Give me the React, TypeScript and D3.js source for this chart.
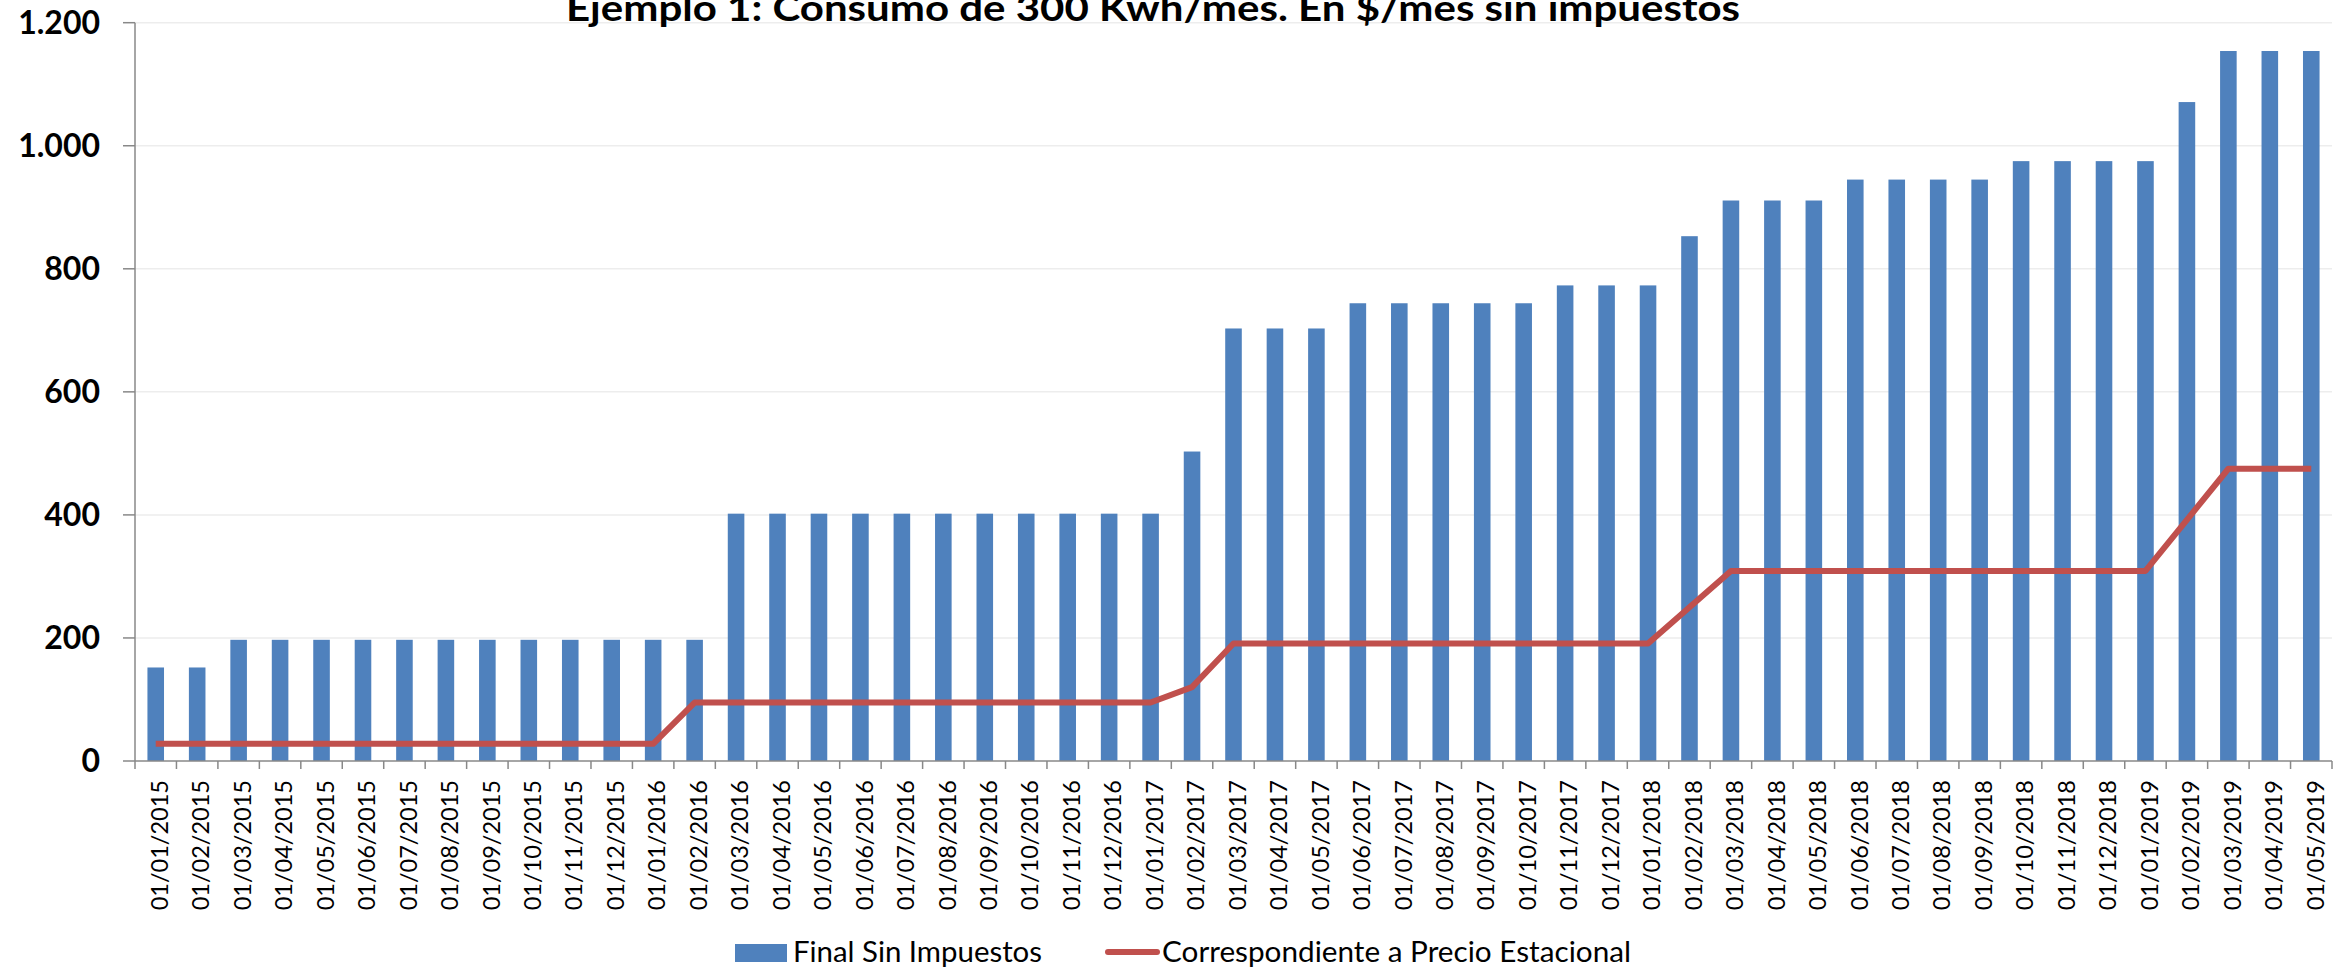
import React from "react";
import * as d3 from "d3";

const title = "Ejemplo 1: Consumo de 300 Kwh/mes. En $/mes sin impuestos";

const categories = [
  "01/01/2015", "01/02/2015", "01/03/2015", "01/04/2015", "01/05/2015", "01/06/2015",
  "01/07/2015", "01/08/2015", "01/09/2015", "01/10/2015", "01/11/2015", "01/12/2015",
  "01/01/2016", "01/02/2016", "01/03/2016", "01/04/2016", "01/05/2016", "01/06/2016",
  "01/07/2016", "01/08/2016", "01/09/2016", "01/10/2016", "01/11/2016", "01/12/2016",
  "01/01/2017", "01/02/2017", "01/03/2017", "01/04/2017", "01/05/2017", "01/06/2017",
  "01/07/2017", "01/08/2017", "01/09/2017", "01/10/2017", "01/11/2017", "01/12/2017",
  "01/01/2018", "01/02/2018", "01/03/2018", "01/04/2018", "01/05/2018", "01/06/2018",
  "01/07/2018", "01/08/2018", "01/09/2018", "01/10/2018", "01/11/2018", "01/12/2018",
  "01/01/2019", "01/02/2019", "01/03/2019", "01/04/2019", "01/05/2019",
];

const finalSinImpuestos = [
  152, 152, 197, 197, 197, 197, 197, 197, 197, 197, 197, 197,
  197, 197, 402, 402, 402, 402, 402, 402, 402, 402, 402, 402,
  402, 503, 703, 703, 703, 744, 744, 744, 744, 744, 773, 773,
  773, 853, 911, 911, 911, 945, 945, 945, 945, 975, 975, 975,
  975, 1071, 1154, 1154, 1154,
];

const precioEstacional = [
  28, 28, 28, 28, 28, 28, 28, 28, 28, 28, 28, 28,
  28, 95, 95, 95, 95, 95, 95, 95, 95, 95, 95, 95,
  95, 120, 191, 191, 191, 191, 191, 191, 191, 191, 191, 191,
  191, 250, 309, 309, 309, 309, 309, 309, 309, 309, 309, 309,
  309, 392, 475, 475, 475,
];

const yTicks = [0, 200, 400, 600, 800, 1000, 1200];
const legendLabels = ["Final Sin Impuestos", "Correspondiente a Precio Estacional"];

const W = 2346;
const H = 968;
const M = { left: 135, right: 2332, top: 22.7, bottom: 761 };
const BAR = "#4F81BD";
const LINE = "#C0504D";
const AXIS = "#888888";
const GRID = "#EDEDED";
const FONT = "Lato, 'Open Sans', sans-serif";

const fmt = (v: number) => d3.format(",")(v).replace(/,/g, ".");

export default function App() {
  const x = d3
    .scaleBand<string>()
    .domain(categories)
    .range([M.left, M.right])
    .paddingInner(0.6)
    .paddingOuter(0.3);
  const y = d3.scaleLinear().domain([0, 1200]).range([M.bottom, M.top]);
  const step = x.step();
  const center = (c: string) => (x(c) as number) + x.bandwidth() / 2;

  const line = d3
    .line<number>()
    .x((_, i) => center(categories[i]))
    .y((d) => y(d));

  const tickXs = d3.range(categories.length + 1).map((i) => M.left + i * step);

  return (
    <svg
      width={W}
      height={H}
      style={{ position: "absolute", left: 0, top: 0, background: "#fff" }}
      fontFamily={FONT}
    >
      <rect x={0} y={0} width={W} height={H} fill="#fff" />
      {/* gridlines */}
      {yTicks.filter((t) => t > 0).map((t) => (
        <line key={"g" + t} x1={M.left} x2={M.right} y1={y(t)} y2={y(t)} stroke={GRID} strokeWidth={1.5} />
      ))}
      {/* title */}
      <text
        x={1153}
        y={21}
        textAnchor="middle"
        fontWeight={700}
        fontSize={36}
        textLength={1174}
        lengthAdjust="spacingAndGlyphs"
        fill="#000"
      >
        {title}
      </text>
      {/* bars */}
      {categories.map((c, i) => (
        <rect
          key={"b" + c}
          x={x(c)}
          y={y(finalSinImpuestos[i])}
          width={x.bandwidth()}
          height={y(0) - y(finalSinImpuestos[i])}
          fill={BAR}
        />
      ))}
      {/* line */}
      <path d={line(precioEstacional) || ""} fill="none" stroke={LINE} strokeWidth={6} strokeLinejoin="round" />
      {/* y axis */}
      <line x1={M.left} x2={M.left} y1={M.top} y2={M.bottom} stroke={AXIS} strokeWidth={1.5} />
      {yTicks.map((t) => (
        <g key={"y" + t}>
          <line x1={M.left - 12} x2={M.left} y1={y(t)} y2={y(t)} stroke={AXIS} strokeWidth={1.5} />
          <text x={100} y={y(t)} dy="0.35em" textAnchor="end" fontWeight={700} fontSize={32} fill="#000">
            {fmt(t)}
          </text>
        </g>
      ))}
      {/* x axis */}
      <line x1={M.left} x2={M.right} y1={M.bottom} y2={M.bottom} stroke={AXIS} strokeWidth={1.5} />
      {tickXs.map((tx, i) => (
        <line key={"xt" + i} x1={tx} x2={tx} y1={M.bottom} y2={M.bottom + 8} stroke={AXIS} strokeWidth={1.5} />
      ))}
      {categories.map((c) => (
        <text
          key={"xl" + c}
          transform={`translate(${center(c) + 4},780) rotate(-90)`}
          dy="0.35em"
          textAnchor="end"
          fontSize={23.5}
          fill="#000"
        >
          {c}
        </text>
      ))}
      {/* legend */}
      <rect x={735} y={944} width={52} height={18} fill={BAR} />
      <text x={793} y={962} fontSize={28} textLength={249} lengthAdjust="spacingAndGlyphs" fill="#000">
        {legendLabels[0]}
      </text>
      <line x1={1108} x2={1157} y1={952} y2={952} stroke={LINE} strokeWidth={6} strokeLinecap="round" />
      <text x={1162} y={962} fontSize={28} textLength={469} lengthAdjust="spacingAndGlyphs" fill="#000">
        {legendLabels[1]}
      </text>
    </svg>
  );
}
